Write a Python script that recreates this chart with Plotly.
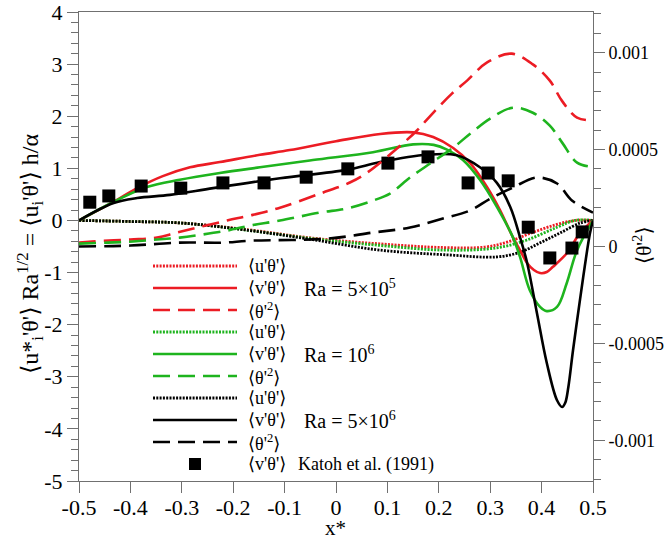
import plotly.graph_objects as go

# ---------------- data ----------------
# <v'theta'>  (left axis)
x_v_5e5 = [-0.5, -0.434, -0.387, -0.337, -0.284, -0.226, -0.148, -0.09, 0.0, 0.086, 0.15, 0.189, 0.228, 0.261, 0.294, 0.319, 0.344, 0.358, 0.372, 0.385, 0.397, 0.41, 0.422, 0.449, 0.475, 0.5]
y_v_5e5 = [0, 0.35, 0.62, 0.85, 1.02, 1.12, 1.26, 1.35, 1.52, 1.66, 1.69, 1.60, 1.39, 1.10, 0.64, 0.20, -0.32, -0.57, -0.82, -0.95, -1.01, -0.99, -0.89, -0.63, -0.24, 0]

x_v_1e6 = [-0.5, -0.434, -0.368, -0.304, -0.226, -0.148, -0.045, 0.072, 0.15, 0.19, 0.216, 0.247, 0.28, 0.313, 0.344, 0.358, 0.377, 0.397, 0.41, 0.43, 0.449, 0.469, 0.5]
y_v_1e6 = [0, 0.35, 0.64, 0.78, 0.91, 1.02, 1.16, 1.31, 1.46, 1.45, 1.36, 1.16, 0.78, 0.26, -0.32, -0.70, -1.34, -1.66, -1.74, -1.66, -1.20, -0.57, 0]

x_v_5e6 = [-0.5, -0.434, -0.387, -0.323, -0.239, -0.109, 0.021, 0.086, 0.177, 0.235, 0.28, 0.313, 0.339, 0.358, 0.372, 0.391, 0.41, 0.43, 0.44, 0.446, 0.452, 0.461, 0.475, 0.484, 0.494, 0.5]
y_v_5e6 = [0, 0.33, 0.43, 0.49, 0.62, 0.81, 0.97, 1.12, 1.26, 1.25, 1.02, 0.72, 0.26, -0.32, -0.82, -1.78, -2.73, -3.45, -3.58, -3.50, -3.20, -2.50, -1.50, -0.88, -0.25, 0]

# <u'theta'>  (left axis)
x_u_5e5 = [-0.5, -0.4, -0.3, -0.17, -0.045, 0.086, 0.21, 0.29, 0.335, 0.38, 0.425, 0.465, 0.5]
y_u_5e5 = [0, -0.02, -0.05, -0.18, -0.34, -0.45, -0.52, -0.51, -0.41, -0.24, -0.09, 0.0, 0.0]

x_u_1e6 = [-0.5, -0.4, -0.3, -0.17, -0.045, 0.086, 0.21, 0.31, 0.37, 0.43, 0.465, 0.5]
y_u_1e6 = [0, -0.02, -0.05, -0.19, -0.35, -0.48, -0.57, -0.53, -0.38, -0.13, 0.0, 0.0]

x_u_5e6 = [-0.5, -0.4, -0.3, -0.17, -0.045, 0.086, 0.216, 0.313, 0.358, 0.397, 0.436, 0.475, 0.5]
y_u_5e6 = [0, -0.02, -0.05, -0.19, -0.37, -0.57, -0.66, -0.70, -0.61, -0.43, -0.24, -0.05, 0]

# <theta'^2>  (right axis)
x_t_5e5 = [-0.5, -0.475, -0.40, -0.348, -0.309, -0.212, -0.167, -0.109, -0.031, 0.027, 0.060, 0.125, 0.158, 0.189, 0.226, 0.255, 0.294, 0.342, 0.383, 0.416, 0.440, 0.469, 0.5]
y_t_5e5 = [0.00002, 0.000026, 0.000036, 0.000046, 0.000072, 0.000134, 0.00016, 0.0002, 0.000273, 0.00033, 0.00038, 0.00052, 0.0006, 0.00069, 0.00079, 0.000856, 0.00095, 0.000995, 0.00094, 0.000856, 0.00075, 0.000665, 0.00065]

x_t_1e6 = [-0.5, -0.444, -0.395, -0.348, -0.304, -0.259, -0.212, -0.167, -0.109, -0.031, 0.021, 0.072, 0.105, 0.144, 0.183, 0.228, 0.261, 0.30, 0.344, 0.383, 0.416, 0.44, 0.469, 0.5]
y_t_1e6 = [0.000015, 0.00002, 0.000026, 0.000036, 0.000046, 0.000062, 0.000082, 0.000108, 0.000134, 0.000175, 0.000196, 0.000237, 0.000273, 0.000356, 0.000428, 0.00051, 0.000582, 0.00066, 0.000716, 0.00069, 0.000624, 0.000536, 0.000433, 0.00041]

x_t_5e6 = [-0.5, -0.40, -0.304, -0.22, -0.167, -0.018, 0.072, 0.144, 0.208, 0.261, 0.30, 0.344, 0.391, 0.43, 0.459, 0.5]
y_t_5e6 = [0.0, 0.000005, 0.00002, 0.00002, 0.00003, 0.00004, 0.000072, 0.000098, 0.000144, 0.000186, 0.000247, 0.000304, 0.000356, 0.000325, 0.000237, 0.000175]

# Katoh et al. (1991) <v'theta'>
x_katoh = [-0.479, -0.442, -0.379, -0.302, -0.22, -0.14, -0.058, 0.023, 0.101, 0.179, 0.257, 0.296, 0.335, 0.374, 0.416, 0.459, 0.479]
y_katoh = [0.35, 0.47, 0.66, 0.62, 0.72, 0.72, 0.83, 0.99, 1.10, 1.22, 0.72, 0.91, 0.76, -0.13, -0.72, -0.53, -0.22]

# ticks
x_ticks = [-0.5, -0.4, -0.3, -0.2, -0.1, 0, 0.1, 0.2, 0.3, 0.4, 0.5]
x_ticktext = ["-0.5", "-0.4", "-0.3", "-0.2", "-0.1", "0", "0.1", "0.2", "0.3", "0.4", "0.5"]
y_ticks = [-5, -4, -3, -2, -1, 0, 1, 2, 3, 4]
y_ticktext = ["-5", "-4", "-3", "-2", "-1", "0", "1", "2", "3", "4"]
y2_ticks = [-0.001, -0.0005, 0, 0.0005, 0.001]
y2_ticktext = ["-0.001", "-0.0005", "0", "0.0005", "0.001"]

# ---------------- styling ----------------
RED = "#ec1c24"
GREEN = "#1eb41e"
BLACK = "#000000"
FONT = "Liberation Serif, Times New Roman, DejaVu Serif, serif"
DOT = "2px,1.3px"
DASH = "17px,8px"

W, H = 669, 542
ML, MR, MT, MB = 79, 76, 12, 61


def px(xp):
    return (xp - ML) / (W - ML - MR)


def py(yp):
    return (H - MB - yp) / (H - MT - MB)


fig = go.Figure()

series = [
    (x_u_5e5, y_u_5e5, RED, DOT, "y"),
    (x_u_1e6, y_u_1e6, GREEN, DOT, "y"),
    (x_u_5e6, y_u_5e6, BLACK, DOT, "y"),
    (x_t_5e5, y_t_5e5, RED, DASH, "y2"),
    (x_t_1e6, y_t_1e6, GREEN, DASH, "y2"),
    (x_t_5e6, y_t_5e6, BLACK, DASH, "y2"),
    (x_v_5e5, y_v_5e5, RED, "solid", "y"),
    (x_v_1e6, y_v_1e6, GREEN, "solid", "y"),
    (x_v_5e6, y_v_5e6, BLACK, "solid", "y"),
]
for xs, ys, c, d, ax in series:
    fig.add_trace(go.Scatter(x=xs, y=ys, mode="lines", yaxis=ax,
                             line=dict(color=c, width=2.6 if d != DOT else 2.8, dash=d,
                                       shape="spline", smoothing=1.0),
                             showlegend=False, hoverinfo="skip"))

fig.add_trace(go.Scatter(x=x_katoh, y=y_katoh, mode="markers", yaxis="y",
                         marker=dict(symbol="square", size=13, color="black"),
                         showlegend=False))

# ---------------- manual legend ----------------
rows = [
    (RED, DOT, "⟨u'θ'⟩"),
    (RED, "solid", "⟨v'θ'⟩"),
    (RED, DASH, "⟨θ'<sup>2</sup>⟩"),
    (GREEN, DOT, "⟨u'θ'⟩"),
    (GREEN, "solid", "⟨v'θ'⟩"),
    (GREEN, DASH, "⟨θ'<sup>2</sup>⟩"),
    (BLACK, DOT, "⟨u'θ'⟩"),
    (BLACK, "solid", "⟨v'θ'⟩"),
    (BLACK, DASH, "⟨θ'<sup>2</sup>⟩"),
]
shapes = []
annotations = []
row0, dy = 266, 22
for i, (c, d, t) in enumerate(rows):
    yy = row0 + i * dy
    shapes.append(dict(type="line", xref="paper", yref="paper",
                       x0=px(153), x1=px(237), y0=py(yy), y1=py(yy),
                       line=dict(color=c, width=2.8 if d == DOT else 2.6, dash=d)))
    annotations.append(dict(text=t, xref="paper", yref="paper", x=px(246), y=py(yy),
                            xanchor="left", yanchor="middle", showarrow=False,
                            font=dict(family=FONT, size=18, color="black")))
yk = row0 + 9 * dy
shapes.append(dict(type="rect", xref="paper", yref="paper",
                   x0=px(189), x1=px(201), y0=py(yk + 6), y1=py(yk - 6),
                   fillcolor="black", line=dict(width=0)))
annotations.append(dict(text="⟨v'θ'⟩", xref="paper", yref="paper", x=px(246), y=py(yk),
                        xanchor="left", yanchor="middle", showarrow=False,
                        font=dict(family=FONT, size=18, color="black")))
annotations.append(dict(text="Katoh et al. (1991)", xref="paper", yref="paper", x=px(296), y=py(yk),
                        xanchor="left", yanchor="middle", showarrow=False,
                        font=dict(family=FONT, size=18, color="black")))
for txt, r in [("Ra = 5×10<sup>5</sup>", 1), ("Ra = 10<sup>6</sup>", 4), ("Ra = 5×10<sup>6</sup>", 7)]:
    annotations.append(dict(text=txt, xref="paper", yref="paper", x=px(302), y=py(row0 + r * dy),
                            xanchor="left", yanchor="middle", showarrow=False,
                            font=dict(family=FONT, size=20, color="black")))

# axis titles
annotations.append(dict(text="⟨u*<sub>i</sub>'θ'⟩ Ra<sup>1/2</sup> = ⟨u<sub>i</sub>'θ'⟩ h/α",
                        xref="paper", yref="paper", x=px(30), y=py(254), textangle=-90,
                        xanchor="center", yanchor="middle", showarrow=False,
                        font=dict(family=FONT, size=24, color="black")))
annotations.append(dict(text="⟨θ'<sup>2</sup>⟩", xref="paper", yref="paper", x=px(642), y=py(245),
                        textangle=-90, xanchor="center", yanchor="middle", showarrow=False,
                        font=dict(family=FONT, size=21, color="black")))
annotations.append(dict(text="x*", xref="paper", yref="paper", x=px(335), y=py(541),
                        xanchor="center", yanchor="bottom", showarrow=False, borderpad=0,
                        font=dict(family=FONT, size=21, color="black")))

AXC = "#707070"
fig.update_layout(
    width=W, height=H,
    margin=dict(l=ML, r=MR, t=MT, b=MB, pad=0, autoexpand=False),
    paper_bgcolor="white", plot_bgcolor="white",
    showlegend=False,
    font=dict(family=FONT, color="black"),
    shapes=shapes, annotations=annotations,
    xaxis=dict(range=[-0.5, 0.5], tickmode="array", tickvals=x_ticks, ticktext=x_ticktext,
               ticks="outside", ticklen=11, tickwidth=1, tickcolor=AXC, automargin=False,
               ticklabelstandoff=-4, ticklabeloverflow="allow",
               showline=True, linecolor=AXC, linewidth=1, mirror=True,
               showgrid=False, zeroline=False,
               tickfont=dict(family=FONT, size=22, color="black")),
    yaxis=dict(range=[-5, 4], tickmode="array", tickvals=y_ticks, ticktext=y_ticktext,
               ticks="outside", ticklen=11, tickwidth=1, tickcolor=AXC, automargin=False,
               ticklabeloverflow="allow",
               minor=dict(tickmode="linear", tick0=0, dtick=0.2, ticks="outside", ticklen=7,
                          tickcolor=AXC, showgrid=False),
               showline=True, linecolor=AXC, linewidth=1,
               showgrid=False, zeroline=False,
               tickfont=dict(family=FONT, size=22, color="black")),
    yaxis2=dict(range=[-0.00121, 0.00121], overlaying="y", side="right",
                tickmode="array", tickvals=y2_ticks, ticktext=y2_ticktext, automargin=False,
                ticklabeloverflow="allow",
                ticks="outside", ticklen=11, tickwidth=1, tickcolor=AXC,
                minor=dict(tickmode="linear", tick0=0, dtick=0.0001, ticks="outside", ticklen=7,
                           tickcolor=AXC, showgrid=False),
                showline=True, linecolor=AXC, linewidth=1,
                showgrid=False, zeroline=False,
                tickfont=dict(family=FONT, size=18, color="black")),
)

fig.write_html("out.html", config={"displayModeBar": False},
               post_script="document.body.style.margin='0';")
